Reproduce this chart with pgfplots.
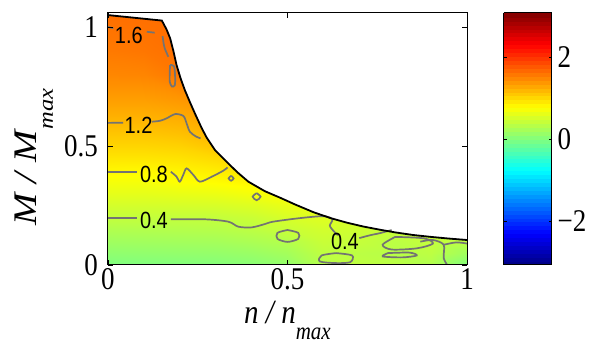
\documentclass[border=0pt]{standalone}
\usepackage{fontspec}
\setmainfont{Liberation Serif}
\newfontfamily\hel{Liberation Sans}
\usepackage{graphicx}
\usepackage{pgfplots}
\usepackage{pgfplotstable}
\pgfplotsset{compat=1.18}
\newcommand{\vs}[1]{\scalebox{1}[1.17]{#1}}
\newcommand{\cl}[1]{{\hel\fontsize{20}{20}\selectfont\scalebox{1}[1.17]{#1}}}

\pgfplotstableread{
n m v
0 0 0.00
0.1 0 0.01
0.2 0 0.02
0.3 0 0.03
0.4 0 0.06
0.5 0 0.12
0.6 0 0.32
0.7 0 0.38
0.8 0 0.36
0.9 0 0.30
1.0 0 0.02
0 0.05 0.10
0.1 0.05 0.11
0.2 0.05 0.12
0.3 0.05 0.13
0.4 0.05 0.16
0.5 0.05 0.22
0.6 0.05 0.38
0.7 0.05 0.36
0.8 0.05 0.34
0.9 0.05 0.37
1.0 0.05 0.20
0 0.10 0.20
0.1 0.10 0.21
0.2 0.10 0.22
0.3 0.10 0.23
0.4 0.10 0.27
0.5 0.10 0.32
0.6 0.10 0.44
0.7 0.10 0.42
0.8 0.10 0.36
0.9 0.10 0.42
1.0 0.10 0.38
0 0.15 0.30
0.1 0.15 0.31
0.2 0.15 0.32
0.3 0.15 0.33
0.4 0.15 0.37
0.5 0.15 0.44
0.6 0.15 0.50
0.7 0.15 0.47
0.8 0.15 0.45
0.9 0.15 0.48
1.0 0.15 0.46
0 0.20 0.41
0.1 0.20 0.41
0.2 0.20 0.41
0.3 0.20 0.41
0.4 0.20 0.45
0.5 0.20 0.53
0.6 0.20 0.58
0.7 0.20 0.56
0.8 0.20 0.54
0.9 0.20 0.54
1.0 0.20 0.52
0 0.25 0.51
0.1 0.25 0.51
0.2 0.25 0.52
0.3 0.25 0.53
0.4 0.25 0.57
0.5 0.25 0.64
0.6 0.25 0.68
0.7 0.25 0.66
0.8 0.25 0.64
0.9 0.25 0.62
1.0 0.25 0.60
0 0.30 0.61
0.1 0.30 0.61
0.2 0.30 0.63
0.3 0.30 0.65
0.4 0.30 0.70
0.5 0.30 0.76
0.6 0.30 0.78
0.7 0.30 0.76
0.8 0.30 0.74
0.9 0.30 0.72
1.0 0.30 0.70
0 0.35 0.71
0.1 0.35 0.71
0.2 0.35 0.76
0.3 0.35 0.78
0.4 0.35 0.83
0.5 0.35 0.88
0.6 0.35 0.88
0.7 0.35 0.86
0.8 0.35 0.84
0.9 0.35 0.82
1.0 0.35 0.80
0 0.40 0.82
0.1 0.40 0.81
0.2 0.40 0.84
0.3 0.40 0.88
0.4 0.40 0.95
0.5 0.40 1.00
0.6 0.40 1.00
0.7 0.40 1.00
0.8 0.40 1.00
0.9 0.40 1.00
1.0 0.40 1.00
0 0.45 0.92
0.1 0.45 0.92
0.2 0.45 0.94
0.3 0.45 0.99
0.4 0.45 1.06
0.5 0.45 1.10
0.6 0.45 1.10
0.7 0.45 1.10
0.8 0.45 1.10
0.9 0.45 1.10
1.0 0.45 1.10
0 0.50 1.02
0.1 0.50 1.02
0.2 0.50 1.04
0.3 0.50 1.12
0.4 0.50 1.18
0.5 0.50 1.20
0.6 0.50 1.20
0.7 0.50 1.20
0.8 0.50 1.20
0.9 0.50 1.20
1.0 0.50 1.20
0 0.55 1.11
0.1 0.55 1.11
0.2 0.55 1.14
0.3 0.55 1.22
0.4 0.55 1.28
0.5 0.55 1.30
0.6 0.55 1.30
0.7 0.55 1.30
0.8 0.55 1.30
0.9 0.55 1.30
1.0 0.55 1.30
0 0.60 1.20
0.1 0.60 1.20
0.2 0.60 1.23
0.3 0.60 1.30
0.4 0.60 1.35
0.5 0.60 1.38
0.6 0.60 1.38
0.7 0.60 1.38
0.8 0.60 1.38
0.9 0.60 1.38
1.0 0.60 1.38
0 0.70 1.36
0.1 0.70 1.36
0.2 0.70 1.40
0.3 0.70 1.45
0.4 0.70 1.48
0.5 0.70 1.50
0.6 0.70 1.50
0.7 0.70 1.50
0.8 0.70 1.50
0.9 0.70 1.50
1.0 0.70 1.50
0 0.80 1.49
0.1 0.80 1.50
0.2 0.80 1.58
0.3 0.80 1.60
0.4 0.80 1.60
0.5 0.80 1.60
0.6 0.80 1.60
0.7 0.80 1.60
0.8 0.80 1.60
0.9 0.80 1.60
1.0 0.80 1.60
0 0.90 1.57
0.1 0.90 1.59
0.2 0.90 1.63
0.3 0.90 1.64
0.4 0.90 1.64
0.5 0.90 1.64
0.6 0.90 1.64
0.7 0.90 1.64
0.8 0.90 1.64
0.9 0.90 1.64
1.0 0.90 1.64
0 1.00 1.61
0.1 1.00 1.62
0.2 1.00 1.64
0.3 1.00 1.65
0.4 1.00 1.65
0.5 1.00 1.65
0.6 1.00 1.65
0.7 1.00 1.65
0.8 1.00 1.65
0.9 1.00 1.65
1.0 1.00 1.65
0 1.06 1.64
0.1 1.06 1.64
0.2 1.06 1.65
0.3 1.06 1.66
0.4 1.06 1.66
0.5 1.06 1.66
0.6 1.06 1.66
0.7 1.06 1.66
0.8 1.06 1.66
0.9 1.06 1.66
1.0 1.06 1.66
}\field

\begin{document}
\begin{tikzpicture}
\begin{axis}[name=main,
  width=359pt, height=252pt, scale only axis,
  xmin=0, xmax=1, ymin=0, ymax=1.0588,
  xtick={0,0.5,1}, ytick={0,0.5,1},
  xticklabels={{\vs{0}},{\vs{0.5}},{\vs{1}}},
  yticklabels={{\vs{0}},{\vs{0.5}},{\vs{1}}},
  ticklabel style={font=\fontsize{27}{27}\selectfont},
  yticklabel style={inner xsep=10pt},
  tick align=inside, major tick length=5pt,
  tick style={black, line width=0.8pt},
  axis line style={line width=1pt},
  axis on top,
  colormap/jet, point meta min=-3.07, point meta max=3.07,
  colorbar sampled,
  colorbar style={
    samples=65,
    width=48pt,
    at={(parent axis.north east)}, anchor=north west, xshift=28pt,
    ymin=-3.07, ymax=3.07,
    ytick={-2,0,2},
    yticklabels={{\vs{−2}},{\vs{0}},{\vs{2}}},
    ytick pos=both, yticklabel pos=right,
    tick align=inside, major tick length=3pt,
    tick style={black, line width=0.8pt},
    axis line style={line width=1pt},
    axis on top,
    yticklabel style={font=\fontsize{27}{27}\selectfont, inner xsep=6pt},
  },
  xlabel={\vs{\fontsize{29}{29}\selectfont\textit{n / n}\raisebox{-14pt}{\fontsize{21}{21}\selectfont\textit{max}}}},
  xlabel style={at={(axis description cs:0.5,-0.232)}, anchor=base},
  ylabel={\scalebox{1.17}[1]{\fontsize{33}{33}\selectfont\textit{M / M}\raisebox{-16pt}{\fontsize{21}{21}\selectfont\textit{max}}}},
  ylabel style={at={(axis description cs:-0.198,0.43)}, anchor=base, rotate=0},
]
\addplot[surf, shader=interp, mesh/cols=11, point meta=\thisrow{v}] table[x=n, y=m] {\field};

% mask above the boundary
\addplot[fill=white, draw=none] coordinates {
(0,1.05) (0.15,1.027) (0.163,0.99) (0.173,0.953) (0.182,0.9) (0.191,0.84) (0.202,0.785) (0.214,0.735) (0.228,0.685) (0.242,0.637) (0.261,0.575) (0.275,0.535) (0.298,0.483) (0.335,0.427) (0.36,0.39) (0.391,0.35) (0.437,0.31) (0.479,0.283) (0.52,0.255) (0.572,0.222) (0.62,0.197) (0.665,0.178) (0.71,0.162) (0.758,0.148) (0.8,0.137) (0.85,0.126) (0.9,0.118) (0.95,0.111) (1.0,0.105) (1.02,0.105) (1.02,1.2) (-0.02,1.2) (-0.02,1.05)};

% contour lines
\pgfplotsset{cline/.style={color=black!55, line width=1.7pt}}
\addplot[cline] coordinates {(0,1.0) (0.015,0.995)};
\addplot[cline] coordinates {(0.108,0.98) (0.13,0.976)};
\addplot[cline] coordinates {(0.152,0.962) (0.155,0.93) (0.158,0.91) (0.168,0.875)};
\addplot[cline, smooth] coordinates {(0.173,0.84) (0.184,0.835) (0.187,0.79) (0.186,0.755) (0.178,0.75) (0.172,0.77) (0.172,0.81) (0.173,0.84)};

\addplot[cline] coordinates {(0,0.597) (0.042,0.598)};
\addplot[cline, smooth] coordinates {(0.122,0.602) (0.145,0.606) (0.163,0.616) (0.187,0.634) (0.21,0.626) (0.219,0.595) (0.228,0.56) (0.245,0.54) (0.258,0.532)};

\addplot[cline] coordinates {(0,0.392) (0.08,0.392)};
\addplot[cline, smooth] coordinates {(0.175,0.392) (0.191,0.371) (0.2,0.35) (0.21,0.38) (0.219,0.406) (0.238,0.378) (0.256,0.35) (0.289,0.371) (0.321,0.396) (0.333,0.41)};
\addplot[cline, smooth] coordinates {(0.343,0.375) (0.35,0.364) (0.343,0.354) (0.336,0.364) (0.343,0.375)};
\addplot[cline, smooth] coordinates {(0.414,0.302) (0.425,0.287) (0.414,0.272) (0.403,0.287) (0.414,0.302)};

\addplot[cline] coordinates {(0,0.196) (0.08,0.196)};
\addplot[cline, smooth] coordinates {(0.175,0.192) (0.27,0.192) (0.335,0.182) (0.363,0.161) (0.4,0.158) (0.437,0.172) (0.46,0.182) (0.535,0.197) (0.6,0.205) (0.625,0.192) (0.618,0.165) (0.63,0.14) (0.64,0.125)};
\addplot[cline, smooth] coordinates {(0.70,0.113) (0.73,0.125) (0.758,0.134) (0.79,0.147)};
\addplot[cline, smooth] coordinates {(0.50,0.147) (0.53,0.135) (0.53,0.11) (0.50,0.097) (0.472,0.11) (0.472,0.135) (0.50,0.147)};
\addplot[cline, smooth] coordinates {(0.635,0.05) (0.68,0.04) (0.675,0.012) (0.635,0.008) (0.59,0.015) (0.595,0.04) (0.635,0.05)};
\addplot[cline, smooth] coordinates {(0.80,0.118) (0.88,0.112) (0.905,0.09) (0.86,0.07) (0.79,0.065) (0.765,0.085) (0.80,0.118)};
\addplot[cline, smooth] coordinates {(0.78,0.05) (0.84,0.052) (0.86,0.04) (0.82,0.032) (0.765,0.036) (0.78,0.05)};
\addplot[cline, smooth] coordinates {(0.87,0.098) (0.905,0.105) (0.935,0.085) (0.935,0.03) (0.945,0.0)};
\addplot[cline, smooth] coordinates {(0.935,0.085) (0.97,0.095) (1.0,0.09)};

% boundary
\addplot[black, line width=1.8pt] coordinates {
(0,1.05) (0.15,1.027) (0.163,0.99) (0.173,0.953) (0.182,0.9) (0.191,0.84) (0.202,0.785) (0.214,0.735) (0.228,0.685) (0.242,0.637) (0.261,0.575) (0.275,0.535) (0.298,0.483) (0.335,0.427) (0.36,0.39) (0.391,0.35) (0.437,0.31) (0.479,0.283) (0.52,0.255) (0.572,0.222) (0.62,0.197) (0.665,0.178) (0.71,0.162) (0.758,0.148) (0.8,0.137) (0.85,0.126) (0.9,0.118) (0.95,0.111) (1.0,0.105)};

% contour labels
\node at (axis cs:0.058,0.965) {\cl{1.6}};
\node at (axis cs:0.085,0.586) {\cl{1.2}};
\node at (axis cs:0.128,0.38) {\cl{0.8}};
\node at (axis cs:0.128,0.187) {\cl{0.4}};
\node at (axis cs:0.66,0.098) {\cl{0.4}};
\end{axis}
\pgfresetboundingbox
\path[use as bounding box] (main.south west) ++(-108pt,-79pt) rectangle ++(589pt,344pt);
\end{tikzpicture}
\end{document}
